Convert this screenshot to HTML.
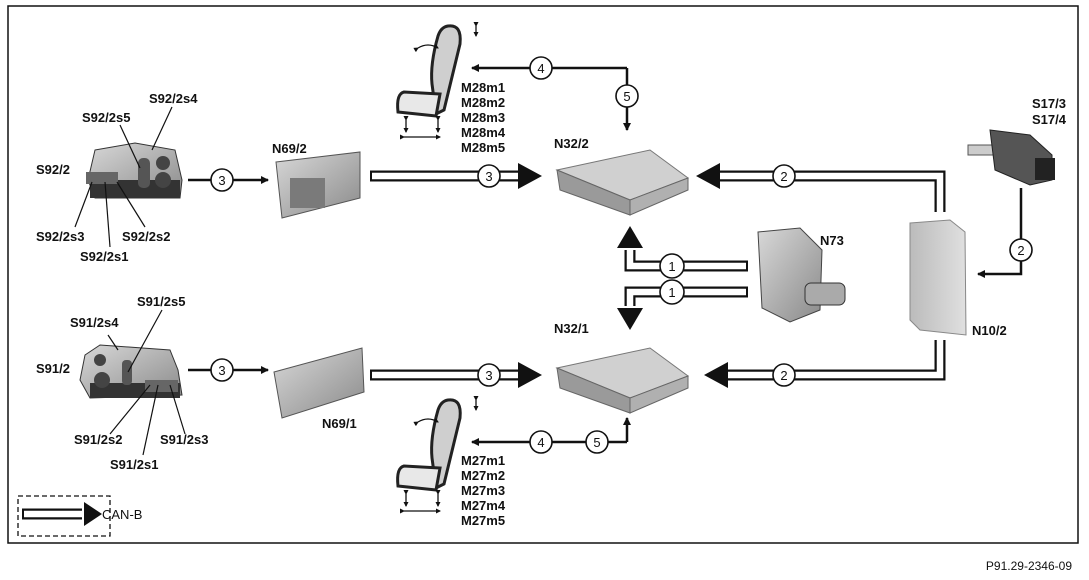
<!DOCTYPE html>
<html><head><meta charset="utf-8"><style>
html,body{margin:0;padding:0;background:#fff;}
svg{display:block;font-family:"Liberation Sans",Arial,sans-serif;}
.lb{font-weight:bold;font-size:13px;fill:#111;}
.c{fill:#fff;stroke:#111;stroke-width:1.6;}
.ct{font-size:13px;text-anchor:middle;fill:#111;}
</style></head><body>
<svg width="1089" height="580" viewBox="0 0 1089 580">
<defs>
<marker id="ah" markerWidth="8" markerHeight="8" refX="7" refY="4" orient="auto" markerUnits="userSpaceOnUse"><path d="M0,0 L8,4 L0,8 Z" fill="#111"/></marker>
<marker id="sa" markerWidth="5" markerHeight="5" refX="4" refY="2.5" orient="auto" markerUnits="userSpaceOnUse"><path d="M0,0 L5,2.5 L0,5 Z" fill="#111"/></marker>
<linearGradient id="g1" x1="0" y1="0" x2="1" y2="1"><stop offset="0" stop-color="#d8d8d8"/><stop offset="1" stop-color="#8a8a8a"/></linearGradient>
<linearGradient id="g2" x1="0" y1="0" x2="1" y2="0"><stop offset="0" stop-color="#bbb"/><stop offset="1" stop-color="#e0e0e0"/></linearGradient>
<g id="seat">
<path d="M52,2 Q66,0 64,20 L48,86 L40,90 L36,60 Q34,40 42,12 Q45,3 52,2 Z" fill="#cfcfcf" stroke="#222" stroke-width="3"/>
<path d="M8,68 Q0,70 2,88 L40,92 L44,70 Z" fill="#e8e8e8" stroke="#222" stroke-width="3"/>
<g stroke="#111" stroke-width="1.3" fill="none">
<line x1="10" y1="96" x2="10" y2="108" marker-start="url(#sa)" marker-end="url(#sa)"/>
<line x1="42" y1="96" x2="42" y2="108" marker-start="url(#sa)" marker-end="url(#sa)"/>
<line x1="8" y1="113" x2="44" y2="113" marker-start="url(#sa)" marker-end="url(#sa)"/>
<line x1="80" y1="2" x2="80" y2="12" marker-start="url(#sa)" marker-end="url(#sa)"/>
<path d="M22,24 Q32,18 42,24" marker-start="url(#sa)" marker-end="url(#sa)"/>
</g>
</g>
</defs>
<rect x="8" y="6" width="1070" height="537" fill="none" stroke="#111" stroke-width="1.5"/>
<text x="1072" y="570" font-size="12" text-anchor="end" fill="#111">P91.29-2346-09</text>

<!-- CAN-B buses -->
<g fill="none" stroke-linejoin="miter">
<g stroke="#111" stroke-width="11">
<path d="M370,176 H520"/><path d="M370,375 H520"/>
<path d="M940,212 V176 H720"/><path d="M940,340 V375 H720"/>
<path d="M748,266 H630 V250"/><path d="M748,292 H630 V306"/>
<path d="M22,514 H82"/>
</g>
<g stroke="#fff" stroke-width="6.5">
<path d="M372,176 H522"/><path d="M372,375 H522"/>
<path d="M940,214 V176 H718"/><path d="M940,338 V375 H718"/>
<path d="M746,266 H630 V248"/><path d="M746,292 H630 V308"/>
<path d="M24,514 H84"/>
</g>
</g>
<g fill="#111">
<path d="M518,163 L542,176 L518,189 Z"/>
<path d="M518,362 L542,375 L518,388 Z"/>
<path d="M720,163 L696,176 L720,189 Z"/>
<path d="M728,362 L704,375 L728,388 Z"/>
<path d="M617,248 L630,226 L643,248 Z"/>
<path d="M617,308 L630,330 L643,308 Z"/>
<path d="M84,502 L102,514 L84,526 Z"/>
</g>
<rect x="18" y="496" width="92" height="40" fill="none" stroke="#111" stroke-width="1.3" stroke-dasharray="5,3"/>
<text x="102" y="519" font-size="13" fill="#111">CAN-B</text>

<!-- thin connectors -->
<g stroke="#111" stroke-width="2.5" fill="none">
<path d="M188,180 H268" marker-end="url(#ah)"/>
<path d="M188,370 H268" marker-end="url(#ah)"/>
<path d="M627,68 H472" marker-end="url(#ah)"/>
<path d="M627,68 V130" marker-end="url(#ah)"/>
<path d="M627,442 H472" marker-end="url(#ah)"/>
<path d="M627,442 V418" marker-end="url(#ah)"/>
<path d="M1021,188 V274 H978" marker-end="url(#ah)"/>
</g>

<!-- circles -->
<g>
<circle class="c" cx="222" cy="180" r="11"/><text class="ct" x="222" y="185">3</text>
<circle class="c" cx="222" cy="370" r="11"/><text class="ct" x="222" y="375">3</text>
<circle class="c" cx="489" cy="176" r="11"/><text class="ct" x="489" y="181">3</text>
<circle class="c" cx="489" cy="375" r="11"/><text class="ct" x="489" y="380">3</text>
<circle class="c" cx="784" cy="176" r="11"/><text class="ct" x="784" y="181">2</text>
<circle class="c" cx="784" cy="375" r="11"/><text class="ct" x="784" y="380">2</text>
<circle class="c" cx="672" cy="266" r="12"/><text class="ct" x="672" y="271">1</text>
<circle class="c" cx="672" cy="292" r="12"/><text class="ct" x="672" y="297">1</text>
<circle class="c" cx="541" cy="68" r="11"/><text class="ct" x="541" y="73">4</text>
<circle class="c" cx="627" cy="96" r="11"/><text class="ct" x="627" y="101">5</text>
<circle class="c" cx="541" cy="442" r="11"/><text class="ct" x="541" y="447">4</text>
<circle class="c" cx="597" cy="442" r="11"/><text class="ct" x="597" y="447">5</text>
<circle class="c" cx="1021" cy="250" r="11"/><text class="ct" x="1021" y="255">2</text>
</g>

<!-- S92/2 switch -->
<g>
<path d="M95,150 L135,143 L175,150 L182,180 L180,198 L95,198 L88,180 Z" fill="url(#g1)" stroke="#333"/>
<rect x="90" y="180" width="90" height="18" fill="#333"/>
<circle cx="163" cy="163" r="7" fill="#444"/><circle cx="163" cy="180" r="8" fill="#444"/>
<rect x="138" y="158" width="12" height="30" rx="5" fill="#555"/>
<rect x="86" y="172" width="32" height="12" fill="#666"/>
</g>
<g stroke="#111" stroke-width="1.2">
<line x1="172" y1="107" x2="152" y2="150"/><line x1="120" y1="125" x2="140" y2="168"/>
<line x1="92" y1="182" x2="75" y2="227"/><line x1="105" y1="182" x2="110" y2="247"/><line x1="117" y1="182" x2="145" y2="227"/>
</g>
<text class="lb" x="149" y="103">S92/2s4</text>
<text class="lb" x="82" y="122">S92/2s5</text>
<text class="lb" x="36" y="174">S92/2</text>
<text class="lb" x="36" y="241">S92/2s3</text>
<text class="lb" x="122" y="241">S92/2s2</text>
<text class="lb" x="80" y="261">S92/2s1</text>

<!-- N69/2 -->
<path d="M276,162 L360,152 L360,198 L282,218 Z" fill="url(#g1)" stroke="#555"/>
<rect x="290" y="178" width="35" height="30" fill="#7a7a7a"/>
<text class="lb" x="272" y="153">N69/2</text>

<!-- S91/2 switch -->
<g>
<path d="M85,355 L100,345 L170,350 L178,370 L182,395 L90,398 L80,380 Z" fill="url(#g1)" stroke="#333"/>
<rect x="90" y="383" width="90" height="15" fill="#333"/>
<circle cx="100" cy="360" r="6" fill="#444"/><circle cx="102" cy="380" r="8" fill="#444"/>
<rect x="122" y="360" width="10" height="25" rx="4" fill="#555"/>
<rect x="145" y="380" width="33" height="12" fill="#666"/>
</g>
<g stroke="#111" stroke-width="1.2">
<line x1="162" y1="310" x2="128" y2="372"/><line x1="108" y1="335" x2="118" y2="350"/>
<line x1="150" y1="385" x2="110" y2="434"/><line x1="158" y1="385" x2="143" y2="455"/><line x1="170" y1="385" x2="185" y2="434"/>
</g>
<text class="lb" x="137" y="306">S91/2s5</text>
<text class="lb" x="70" y="327">S91/2s4</text>
<text class="lb" x="36" y="373">S91/2</text>
<text class="lb" x="74" y="444">S91/2s2</text>
<text class="lb" x="160" y="444">S91/2s3</text>
<text class="lb" x="110" y="469">S91/2s1</text>

<!-- N69/1 -->
<path d="M274,372 L362,348 L364,392 L282,418 Z" fill="url(#g1)" stroke="#555"/>
<text class="lb" x="322" y="428">N69/1</text>

<!-- seats -->
<use href="#seat" x="396" y="24"/>
<use href="#seat" x="396" y="398"/>
<g class="lb"><text x="461" y="92">M28m1</text><text x="461" y="107">M28m2</text><text x="461" y="122">M28m3</text><text x="461" y="137">M28m4</text><text x="461" y="152">M28m5</text></g>
<g class="lb"><text x="461" y="465">M27m1</text><text x="461" y="480">M27m2</text><text x="461" y="495">M27m3</text><text x="461" y="510">M27m4</text><text x="461" y="525">M27m5</text></g>

<!-- N32/2 and N32/1 -->
<g>
<path d="M557,170 L650,150 L688,178 L630,200 Z" fill="#d0d0d0" stroke="#777"/>
<path d="M557,170 L630,200 L630,215 L560,190 Z" fill="#9a9a9a" stroke="#666"/>
<path d="M630,200 L688,178 L688,190 L630,215 Z" fill="#b0b0b0" stroke="#666"/>
</g>
<g transform="translate(0,198)">
<path d="M557,170 L650,150 L688,178 L630,200 Z" fill="#d0d0d0" stroke="#777"/>
<path d="M557,170 L630,200 L630,215 L560,190 Z" fill="#9a9a9a" stroke="#666"/>
<path d="M630,200 L688,178 L688,190 L630,215 Z" fill="#b0b0b0" stroke="#666"/>
</g>
<text class="lb" x="554" y="148">N32/2</text>
<text class="lb" x="554" y="333">N32/1</text>

<!-- N73 -->
<path d="M758,232 L800,228 L822,250 L820,310 L790,322 L762,308 Z" fill="url(#g1)" stroke="#444"/>
<rect x="805" y="283" width="40" height="22" rx="6" fill="#aaa" stroke="#333"/>
<text class="lb" x="820" y="245">N73</text>

<!-- N10/2 -->
<path d="M910,223 L950,220 L965,232 L966,335 L920,330 L910,320 Z" fill="url(#g2)" stroke="#888"/>
<text class="lb" x="972" y="335">N10/2</text>

<!-- S17/3 -->
<g>
<rect x="968" y="145" width="30" height="10" fill="#ccc" stroke="#555"/>
<path d="M990,130 L1030,135 L1052,155 L1052,180 L1030,185 L995,170 Z" fill="#555" stroke="#222"/>
<rect x="1035" y="158" width="20" height="22" fill="#222"/>
</g>
<text class="lb" x="1032" y="108">S17/3</text>
<text class="lb" x="1032" y="124">S17/4</text>
</svg>
</body></html>
